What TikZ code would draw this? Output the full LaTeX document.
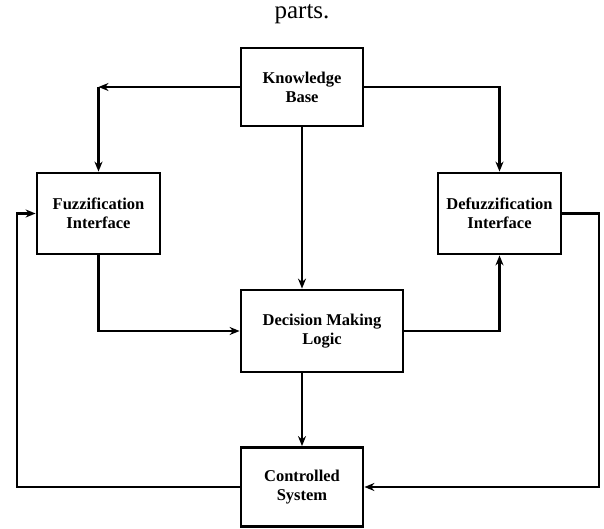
\documentclass[tikz,border=0pt]{standalone}
\usepackage{fontspec}
\setmainfont{Liberation Serif}
\usetikzlibrary{arrows.meta}
\begin{document}
\begin{tikzpicture}[x=1pt,y=-1pt,
  blk/.style={draw,line width=2.8pt,font=\bfseries\fontsize{16.5}{19}\selectfont,align=center,inner sep=0pt},
  conn/.style={line width=2.5pt,-{Stealth[length=10pt,width=8pt]}}]
\useasboundingbox (0,0) rectangle (604,529);
\node[font=\fontsize{25}{29}\selectfont] (title) at (302,14) {parts.};
\node[blk,minimum width=122pt,minimum height=78pt] (kb) at (302,87) {Knowledge\\Base};
\node[blk,minimum width=123pt,minimum height=81pt] (fz) at (98.5,213.5) {Fuzzification\\Interface};
\node[blk,minimum width=123pt,minimum height=81pt] (df) at (499.5,213.5) {Defuzzification\\Interface};
\node[blk,minimum width=162pt,minimum height=82pt] (dm) at (322,331) {Decision Making\\Logic};
\node[blk,minimum width=122pt,minimum height=79pt] (cs) at (302,487) {Controlled\\System};
\coordinate (kl) at (98.5,87);
\coordinate (lc) at (17,0);
\coordinate (rc) at (599,0);
\draw[conn] (kb.west) -- (kl);
\draw[conn] (kl) -- (fz.north);
\draw[conn] (kb.east) -| (df.north);
\draw[conn] (kb.south) -- (kb.south |- dm.north);
\draw[conn] (fz.south) |- (dm.west);
\draw[conn] (dm.east) -| (df.south);
\draw[conn] (kb.south |- dm.south) -- (cs.north);
\draw[conn] (cs.west) -| (lc |- fz.west) -- (fz.west);
\draw[conn] (df.east) -| (rc |- cs.east) -- (cs.east);
\end{tikzpicture}
\end{document}
